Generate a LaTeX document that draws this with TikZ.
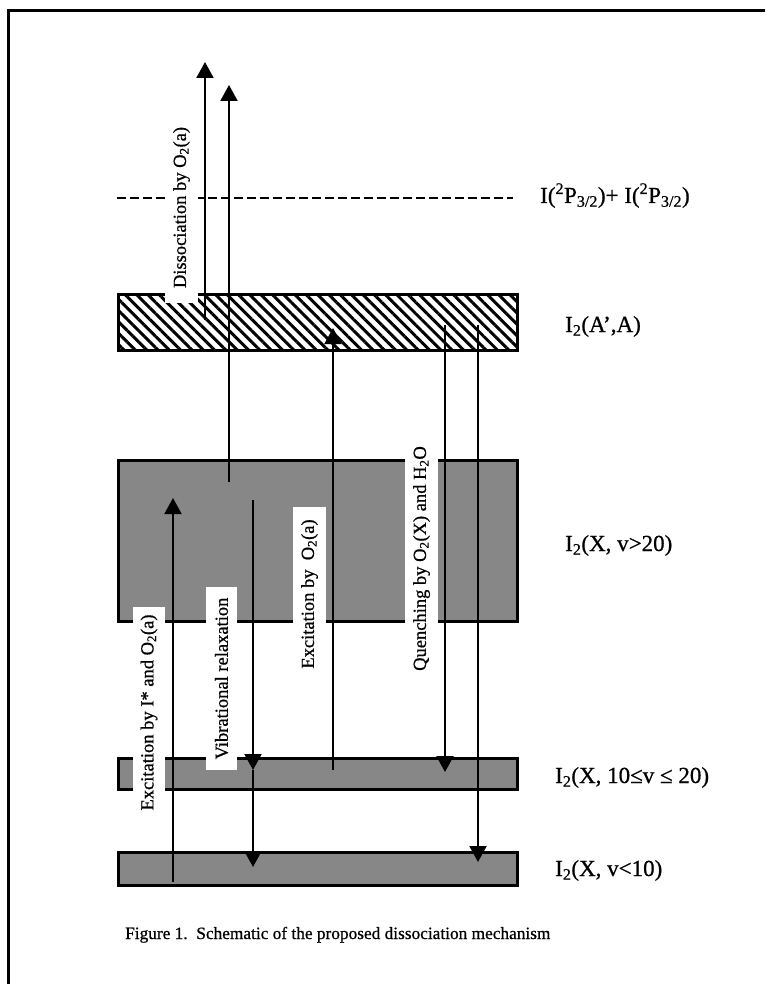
\documentclass[tikz,border=0pt]{standalone}
\usepackage{fontspec}
\setmainfont{Liberation Serif}
\newfontfamily\scanfont{Liberation Serif}[FakeBold=0.7]
\usetikzlibrary{arrows.meta,patterns.meta}
\begin{document}
\begin{tikzpicture}[x=1pt,y=-1pt,
  lvl/.style={draw=black,line width=2.5pt,inner sep=0pt,anchor=north west},
  grayfill/.style={lvl,fill=black!47},
  hatch/.style={lvl,pattern={Lines[angle=-45,distance=8pt,line width=3pt]}},
  arr/.style={line width=2pt,-{Triangle[length=16pt,width=17pt]}},
  rlab/.style={rotate=90,fill=white,inner sep=0pt,font=\scanfont\fontsize{18.5}{20}\selectfont},
  slab/.style={anchor=base west,inner sep=0pt,font=\scanfont\fontsize{23}{25}\selectfont}]
\useasboundingbox (0,0) rectangle (765,984);
% frame
\draw[line width=2.7pt] (8.7,984) -- (8.7,10.3) -- (765,10.3);
% levels
\node[hatch,minimum width=399pt,minimum height=56pt] (AA) at (117,293) {};
\node[grayfill,minimum width=399pt,minimum height=161pt] (Xhi) at (117,459) {};
\node[grayfill,minimum width=399pt,minimum height=31pt] (Xmid) at (117,757) {};
\node[grayfill,minimum width=399pt,minimum height=33pt] (Xlow) at (117,851) {};
% dissociation limit
\draw[line width=2pt,dash pattern=on 9pt off 4pt] (117,198) -- (513,198);
% rotated labels
\node[rlab,minimum width=191pt,minimum height=33pt] (Ldiss) at (181.5,207.5) {Dissociation by O\textsubscript{2}(a)};
\node[rlab,minimum width=211pt,minimum height=32pt] (Lexc1) at (149,712.5) {Excitation by I* and O\textsubscript{2}(a)};
\node[rlab,minimum width=183pt,minimum height=31pt] (Lvib) at (221.5,678.5) {Vibrational relaxation};
\node[rlab,minimum width=174pt,minimum height=33pt] (Lexc2) at (309.5,594) {Excitation by\ \ O\textsubscript{2}(a)};
\node[rlab,minimum width=245pt,minimum height=33pt] (Lq) at (421.5,558.5) {Quenching by O\textsubscript{2}(X) and H\textsubscript{2}O};
% right labels
\node[slab] (Lii) at (540,203) {I(\textsuperscript{2}P\textsubscript{3/2})+ I(\textsuperscript{2}P\textsubscript{3/2})};
\node[slab] (Laa) at (565,332) {I\textsubscript{2}(A’,A)};
\node[slab] (Lhi) at (565,551) {I\textsubscript{2}(X, v>20)};
\node[slab] (Lmid) at (555,783) {I\textsubscript{2}(X, 10≤v ≤ 20)};
\node[slab] (Llow) at (555,876) {I\textsubscript{2}(X, v<10)};
% caption
\node[anchor=base west,inner sep=0pt,font=\scanfont\fontsize{17.3}{19}\selectfont] (cap) at (125,939) {Figure 1.\ \ Schematic of the proposed dissociation mechanism};
% arrow end points
\coordinate (d1s) at (205,320); \coordinate (d1e) at (205,62);
\coordinate (d2s) at (229,482); \coordinate (d2e) at (229,85);
\coordinate (eIs) at (173,882); \coordinate (eIe) at (173,498);
\coordinate (vs) at (253,500); \coordinate (vm) at (253,770); \coordinate (ve) at (253,867);
\coordinate (eOs) at (333,770); \coordinate (eOe) at (333,328);
\coordinate (q1s) at (445,325); \coordinate (q1e) at (445,772);
\coordinate (q2s) at (478,325); \coordinate (q2e) at (478,862);
% arrows
\draw[arr] (d1s) -- (d1e);
\draw[arr] (d2s) -- (d2e);
\draw[arr] (eIs) -- (eIe);
\draw[arr] (vs) -- (vm);
\draw[arr] (vm) -- (ve);
\draw[arr] (eOs) -- (eOe);
\draw[arr] (q1s) -- (q1e);
\draw[arr] (q2s) -- (q2e);
\end{tikzpicture}
\end{document}
